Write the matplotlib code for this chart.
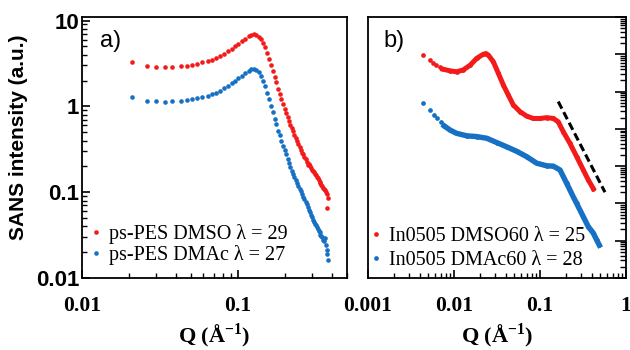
import numpy as np
import matplotlib
matplotlib.use('Agg')
import matplotlib.pyplot as plt
import matplotlib.ticker as mtick

# a) ps-PES membranes, both series on the same Q grid (1/A)
q_a = [0.021, 0.026, 0.030, 0.034, 0.038, 0.043, 0.047, 0.051, 0.055, 0.059,
       0.064, 0.068, 0.072, 0.077, 0.081, 0.086, 0.091, 0.096, 0.100, 0.106,
       0.111, 0.117, 0.122, 0.127, 0.131, 0.136, 0.140, 0.145, 0.149, 0.154,
       0.158, 0.163, 0.167, 0.172, 0.176, 0.181, 0.185, 0.190, 0.194, 0.199,
       0.203, 0.208, 0.212, 0.217, 0.221, 0.226, 0.230, 0.235, 0.239, 0.244,
       0.248, 0.253, 0.257, 0.262, 0.266, 0.271, 0.275, 0.280, 0.284, 0.289,
       0.293, 0.298, 0.302, 0.307, 0.311, 0.316, 0.320, 0.325, 0.329, 0.334,
       0.338, 0.343, 0.347, 0.352, 0.356, 0.361, 0.365, 0.370, 0.374, 0.379]
i_a_dmso = [3.25, 2.92, 2.88, 2.85, 2.88, 2.92, 2.98, 3.03, 3.14, 3.25,
            3.34, 3.50, 3.66, 3.89, 4.11, 4.38, 4.70, 5.01, 5.34, 5.72,
            6.11, 6.55, 6.87, 7.0, 6.8, 6.5, 6.1, 5.5, 4.9, 4.2,
            3.6, 3.0, 2.55, 2.2, 1.9, 1.6, 1.4, 1.22, 1.07, 0.94,
            0.84, 0.75, 0.68, 0.61, 0.56, 0.51, 0.47, 0.43, 0.39, 0.36,
            0.335, 0.31, 0.29, 0.275, 0.26, 0.245, 0.225, 0.21, 0.215, 0.20,
            0.19, 0.18, 0.175, 0.17, 0.165, 0.158, 0.15, 0.145, 0.14, 0.132,
            0.128, 0.122, 0.118, 0.112, 0.108, 0.105, 0.10, 0.066, 0.095, 0.085]
i_a_dmac = [1.30, 1.15, 1.14, 1.13, 1.15, 1.17, 1.19, 1.21, 1.24, 1.28,
            1.32, 1.38, 1.45, 1.53, 1.63, 1.74, 1.87, 1.99, 2.14, 2.28,
            2.45, 2.60, 2.72, 2.75, 2.68, 2.5, 2.25, 2.0, 1.72, 1.45,
            1.22, 1.0, 0.85, 0.72, 0.62, 0.52, 0.46, 0.40, 0.35, 0.31,
            0.275, 0.245, 0.22, 0.195, 0.178, 0.162, 0.15, 0.138, 0.128, 0.118,
            0.11, 0.102, 0.095, 0.089, 0.083, 0.077, 0.072, 0.067, 0.062, 0.058,
            0.054, 0.051, 0.048, 0.045, 0.043, 0.041, 0.039, 0.037, 0.035, 0.034,
            0.032, 0.031, 0.030, 0.028, 0.027, 0.029, 0.024, 0.021, 0.019, 0.016]

# b) In0505 membranes
q_b_dmso = [0.0044, 0.0052, 0.0057, 0.0062, 0.0068, 0.0074, 0.0090, 0.0107,
            0.0128, 0.0154, 0.0184, 0.0219, 0.0235, 0.0251, 0.0287, 0.0328, 0.0375,
            0.0428, 0.0489, 0.0585, 0.0700, 0.0836, 0.100, 0.120, 0.143,
            0.163, 0.187, 0.223, 0.267, 0.319, 0.364, 0.417]
i_b_dmso = [9.5e5, 6.9e5, 5.9e5, 5.1e5, 4.5e5, 4.0e5, 3.6e5, 3.4e5,
            3.8e5, 5.1e5, 7.8e5, 1.0e6, 1.05e6, 9.5e5, 6.3e5, 3.1e5, 1.5e5,
            8.1e4, 4.4e4, 2.9e4, 2.2e4, 1.9e4, 1.9e4, 2.0e4, 1.9e4,
            1.55e4, 8.3e3, 4.1e3, 1.8e3, 7.9e2, 4.3e2, 2.5e2]
q_b_dmac = [0.0044, 0.0053, 0.0059, 0.0064, 0.0070, 0.0077, 0.0090, 0.0107,
            0.0141, 0.0184, 0.0240, 0.0314, 0.0410, 0.0536, 0.0700, 0.0916,
            0.120, 0.143, 0.171, 0.204, 0.244, 0.267, 0.319, 0.364,
            0.417, 0.456, 0.490]
i_b_dmac = [5.0e4, 3.2e4, 2.3e4, 1.9e4, 1.55e4, 1.2e4, 9.3e3, 7.6e3,
            6.5e3, 6.2e3, 5.6e3, 4.3e3, 3.3e3, 2.5e3, 1.8e3, 1.2e3,
            1.02e3, 1.0e3, 7.9e2, 3.5e2, 1.5e2, 1.0e2, 44, 24,
            16, 10.5, 7.6]

# Q^-4 guide
q_guide = [0.163, 0.57]
i_guide = [5.4e4, 2.0e2]

labels_a = ['ps-PES DMSO λ = 29', 'ps-PES DMAc λ = 27']
labels_b = ['In0505 DMSO60 λ = 25', 'In0505 DMAc60 λ = 28']

xticks_a = [0.01, 0.1]
xtick_labels_a = ['0.01', '0.1']
yticks_a = [0.01, 0.1, 1, 10]
ytick_labels_a = ['0.01', '0.1', '1', '10']
xticks_b = [0.001, 0.01, 0.1, 1]
xtick_labels_b = ['0.001', '0.01', '0.1', '1']

red = '#f41a1a'
blue = '#1670c4'

plt.rcParams['mathtext.fontset'] = 'custom'
plt.rcParams['mathtext.rm'] = 'Liberation Serif:bold'
plt.rcParams['mathtext.bf'] = 'Liberation Serif:bold'
plt.rcParams['axes.linewidth'] = 1.3

serif_bold = dict(family='Liberation Serif', weight='bold', size=15.5)
sans_bold = dict(family='Liberation Sans', weight='bold', size=16)
leg_font = {'family': 'Liberation Serif', 'size': 14.5}

fig = plt.figure(figsize=(6.3, 3.5), dpi=100)
ax1 = fig.add_axes([0.1302, 0.2057, 0.4206, 0.7457])
ax2 = fig.add_axes([0.5841, 0.2057, 0.4095, 0.7457])

# --- panel a ---
ax1.plot(q_a, i_a_dmso, 'o', ms=3.3, color=red, mew=0, label=labels_a[0])
ax1.plot(q_a, i_a_dmac, 'o', ms=3.3, color=blue, mew=0, label=labels_a[1])
ax1.set_xscale('log')
ax1.set_yscale('log')
ax1.set_xlim(0.01, 0.5)
ax1.set_ylim(0.01, 11)

# --- panel b ---
ax2.plot(q_b_dmso[5:], i_b_dmso[5:], '-', lw=3.6, color=red, label='_nolegend_')
ax2.plot(q_b_dmac[5:], i_b_dmac[5:], '-', lw=3.9, color=blue, label='_nolegend_')
ax2.plot(q_b_dmso, i_b_dmso, 'o', ms=3.4, color=red, mew=0, label=labels_b[0])
ax2.plot(q_b_dmac, i_b_dmac, 'o', ms=3.4, color=blue, mew=0, label=labels_b[1])
ax2.plot(q_guide, i_guide, color='black', lw=2.2, dashes=(2.6, 1.3))
ax2.set_xscale('log')
ax2.set_yscale('log')
ax2.set_xlim(0.001, 1)
ax2.set_ylim(1, 1e7)

for ax in (ax1, ax2):
    ax.xaxis.set_minor_locator(mtick.LogLocator(base=10, subs=np.arange(2, 10), numticks=20))
    ax.yaxis.set_minor_locator(mtick.LogLocator(base=10, subs=np.arange(2, 10), numticks=20))
    ax.xaxis.set_minor_formatter(mtick.NullFormatter())
    ax.yaxis.set_minor_formatter(mtick.NullFormatter())
    ax.tick_params(which='both', direction='in', top=False)
    ax.tick_params(which='major', length=6, width=1.2)
    ax.tick_params(which='minor', length=3.5, width=1.0)
    ax.tick_params(axis='x', pad=13)
    ax.set_xlabel(r'Q (Å$^{-1}$)', **dict(serif_bold, size=16))
    ax.xaxis.set_label_coords(0.5, -0.165)

ax1.set_xticks(xticks_a)
ax1.set_xticklabels(xtick_labels_a, **serif_bold)
ax1.set_yticks(yticks_a)
ax1.set_yticklabels(ytick_labels_a, **sans_bold)
ax1.tick_params(axis='y', which='both', right=False, pad=2)
ax1.set_ylabel('SANS intensity (a.u.)', family='Liberation Sans', weight='bold', size=15)
ax1.yaxis.set_label_coords(-0.205, 0.54)

ax2.set_xticks(xticks_b)
ax2.set_xticklabels(xtick_labels_b, **serif_bold)
ax2.yaxis.set_major_locator(mtick.LogLocator(base=10, numticks=20))
ax2.tick_params(axis='y', which='both', left=False, right=True, labelleft=False)
ax2.tick_params(axis='y', which='major', length=8)
ax2.tick_params(axis='y', which='minor', length=4)

ax1.text(0.068, 0.908, 'a)', transform=ax1.transAxes, va='center',
         family='Liberation Sans', size=17)
ax2.text(0.058, 0.908, 'b)', transform=ax2.transAxes, va='center',
         family='Liberation Sans', size=17)

ax1.legend(loc='lower left', bbox_to_anchor=(0.0, 0.02), frameon=False, prop=leg_font,
           handlelength=0.6, handletextpad=0.35, labelspacing=0.05, borderpad=0.2,
           borderaxespad=0.2)
ax2.legend(loc='lower left', bbox_to_anchor=(-0.025, 0.0), frameon=False, prop=leg_font,
           handlelength=0.6, handletextpad=0.35, labelspacing=0.25, borderpad=0.2,
           borderaxespad=0.2)

fig.savefig('out.png', dpi=100)
